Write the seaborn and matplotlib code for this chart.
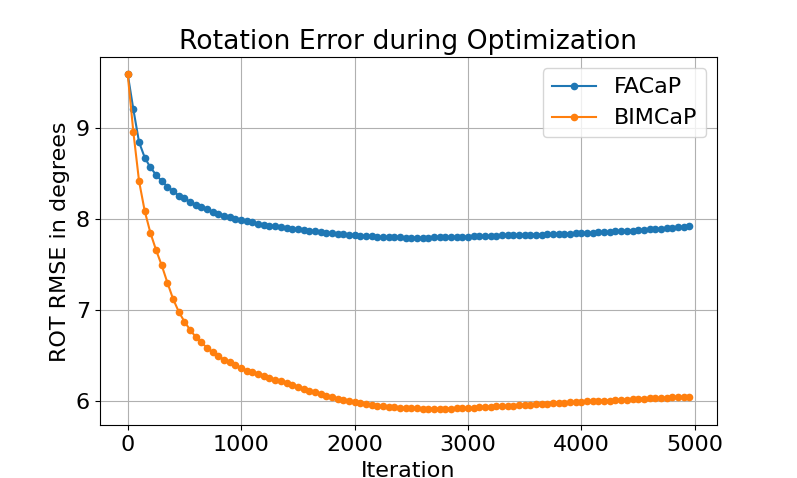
import numpy as np
import pandas as pd
import matplotlib
matplotlib.use("Agg")
import matplotlib.pyplot as plt
import seaborn as sns

# iterations, one point every 50 steps
iteracoes = list(range(0, 5000, 50))

facap = [
    9.60, 9.21, 8.85, 8.68, 8.57, 8.49, 8.42, 8.36, 8.31, 8.26,
    8.23, 8.19, 8.16, 8.13, 8.11, 8.08, 8.06, 8.04, 8.02, 8.005,
    7.99, 7.98, 7.965, 7.95, 7.94, 7.93, 7.92, 7.91, 7.90, 7.895,
    7.89, 7.88, 7.87, 7.865, 7.86, 7.85, 7.845, 7.84, 7.835, 7.83,
    7.82, 7.815, 7.81, 7.81, 7.805, 7.80, 7.80, 7.80, 7.80, 7.795,
    7.795, 7.795, 7.795, 7.795, 7.80, 7.80, 7.80, 7.80, 7.805, 7.805,
    7.805, 7.81, 7.81, 7.81, 7.815, 7.815, 7.82, 7.82, 7.82, 7.825,
    7.825, 7.83, 7.83, 7.83, 7.835, 7.835, 7.84, 7.84, 7.84, 7.845,
    7.845, 7.85, 7.85, 7.855, 7.86, 7.86, 7.865, 7.87, 7.87, 7.875,
    7.88, 7.885, 7.89, 7.89, 7.895, 7.90, 7.905, 7.91, 7.915, 7.92,
]

bimcap = [
    9.60, 8.96, 8.42, 8.09, 7.85, 7.66, 7.49, 7.30, 7.12, 6.98,
    6.87, 6.78, 6.70, 6.64, 6.58, 6.53, 6.49, 6.45, 6.42, 6.39,
    6.36, 6.33, 6.31, 6.29, 6.27, 6.25, 6.23, 6.21, 6.19, 6.17,
    6.15, 6.13, 6.11, 6.09, 6.07, 6.055, 6.04, 6.02, 6.005, 5.99,
    5.98, 5.97, 5.96, 5.95, 5.94, 5.935, 5.93, 5.925, 5.92, 5.92,
    5.915, 5.915, 5.91, 5.91, 5.91, 5.91, 5.91, 5.91, 5.915, 5.915,
    5.915, 5.92, 5.925, 5.93, 5.93, 5.935, 5.94, 5.94, 5.945, 5.95,
    5.955, 5.955, 5.96, 5.965, 5.965, 5.97, 5.975, 5.975, 5.98, 5.98,
    5.985, 5.99, 5.99, 5.995, 6.00, 6.00, 6.005, 6.01, 6.01, 6.015,
    6.02, 6.02, 6.025, 6.025, 6.03, 6.03, 6.035, 6.035, 6.04, 6.04,
]

metodos = ['FACaP', 'BIMCaP']

df = pd.DataFrame({
    'Iteration': iteracoes * 2,
    'rmse': facap + bimcap,
    'metodo': ['FACaP'] * len(facap) + ['BIMCaP'] * len(bimcap),
})

plt.rcParams['font.size'] = 16

fig, ax = plt.subplots(figsize=(7.97, 4.78), dpi=100)
sns.lineplot(data=df, x='Iteration', y='rmse', hue='metodo', hue_order=metodos,
             palette=['#1f77b4', '#ff7f0e'], marker='o', markersize=5.5,
             markeredgewidth=0, linewidth=1.5, ax=ax)

ax.set_title('Rotation Error during Optimization')
ax.set_xlabel('Iteration')
ax.set_ylabel('ROT RMSE in degrees')
ax.grid(True)
ax.legend(title=None, loc='upper right')

plt.savefig('out.png', dpi=100)
